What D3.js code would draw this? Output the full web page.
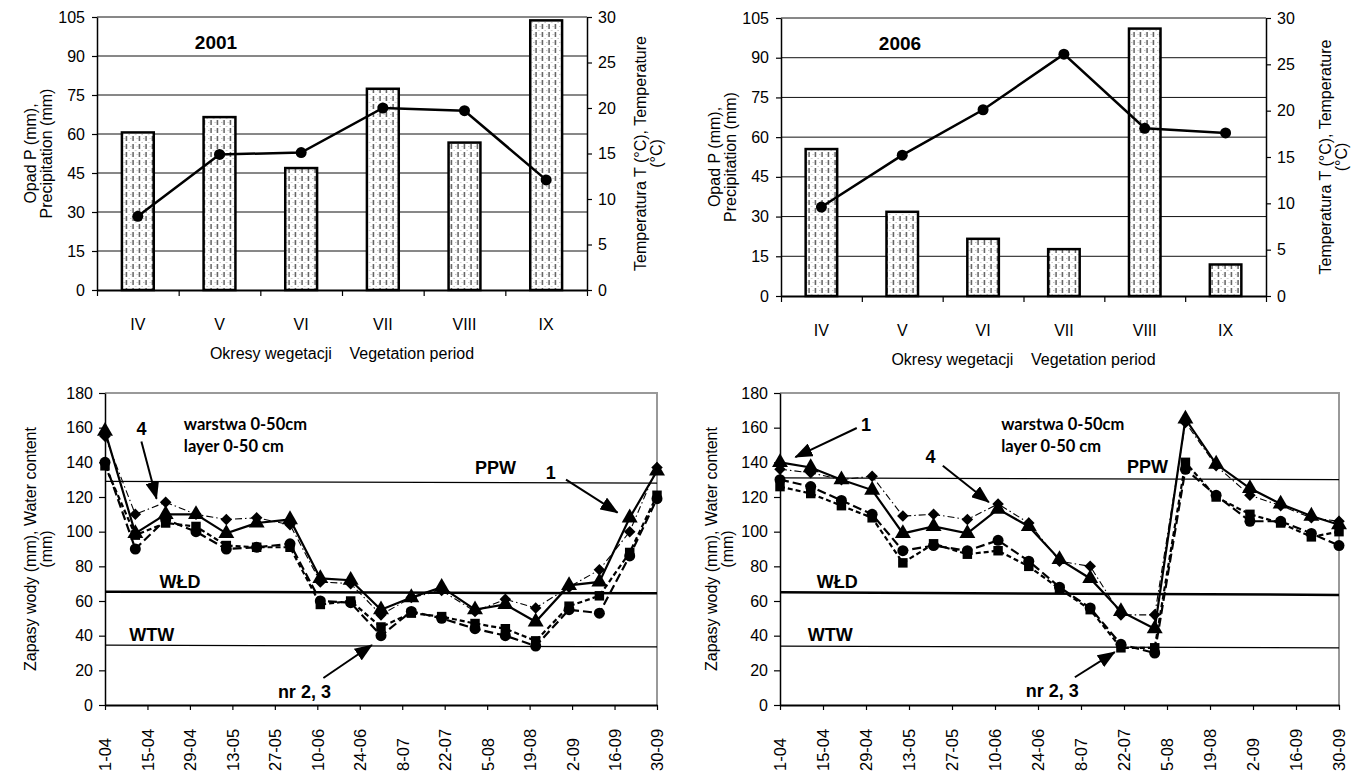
<!DOCTYPE html>
<html>
<head>
<meta charset="utf-8">
<script src="https://cdn.jsdelivr.net/npm/d3@7"></script>
<style>
  body { margin: 0; background: #fff; }
  svg { display: block; font-family: "Liberation Sans", Arial, sans-serif; }
</style>
</head>
<body>
<svg id="svg" width="1357" height="774"></svg>
<script>
// --- top charts: monthly precipitation (bars) + temperature (line)
const MONTHS = ["IV", "V", "VI", "VII", "VIII", "IX"];
const PRECIP_2001 = [60.6, 66.5, 46.9, 77.4, 56.7, 103.7];
const TEMP_2001   = [8.1, 14.9, 15.1, 20.0, 19.7, 12.1];
const PRECIP_2006 = [55.5, 31.8, 21.6, 17.7, 101.0, 11.9];
const TEMP_2006   = [9.6, 15.2, 20.1, 26.1, 18.1, 17.6];

// --- bottom charts: water content 0-50 cm, measured every dekad
const DEKADS = ["04-01", "04-11", "04-21", "05-01", "05-11", "05-21", "06-01", "06-11", "06-21",
  "07-01", "07-11", "07-21", "08-01", "08-11", "08-21", "09-01", "09-11", "09-21", "09-30"];
const AXIS_TICKS = ["04-01", "04-15", "04-29", "05-13", "05-27", "06-10", "06-24",
  "07-08", "07-22", "08-05", "08-19", "09-02", "09-16", "09-30"];

const W2001_S1 = [158, 99, 110, 110, 99, 105, 107, 73, 72, 55, 62, 68, 55, 58, 48, 69, 71, 108, 135];
const W2001_S2 = [140, 90, 107, 100, 90, 91, 93, 60, 59, 40, 54, 50, 44, 40, 34, 55, 53, 86, 119];
const W2001_S3 = [138, 98, 105, 103, 92, 91, 91, 58, 60, 45, 53, 51, 47, 44, 37, 57, 63, 88, 121];
const W2001_S4 = [155, 110, 117, 110, 107, 108, 104, 71, 70, 52, 62, 66, 54, 61, 56, 68, 78, 100, 137];

const W2006_S1 = [140, 137, 130, 124, 99, 103, 99, 113, 103, 84, 73, 54, 44, 165, 139, 125, 116, 109, 104];
const W2006_S2 = [130, 126, 118, 110, 89, 92, 89, 95, 83, 68, 56, 35, 30, 136, 121, 106, 106, 99, 92];
const W2006_S3 = [126, 122, 115, 108, 82, 93, 87, 89, 80, 67, 55, 33, 33, 140, 120, 110, 105, 97, 100];
const W2006_S4 = [136, 134, 130, 132, 109, 110, 107, 116, 105, 83, 80, 52, 52, 163, 138, 121, 115, 108, 106];

// reference levels [value at 1-04, value at 30-09]
const PPW_2001 = [129, 128], WLD_2001 = [65.4, 64.4], WTW_2001 = [34.6, 33.5];
const PPW_2006 = [131, 130], WLD_2006 = [65, 63.5],   WTW_2006 = [34, 33];

// annotations: [text, date, value, anchor, font], arrows: [fromDate, fromVal, toDate, toVal]
const LABELS_2001 = [
  ["4", "04-13", 156, "mid", "num"], ["warstwa 0-50cm", "04-27", 158.7, "start", "cal"],
  ["layer 0-50 cm", "04-27", 146, "start", "cal"], ["PPW", "08-01", 133, "start", "ref"],
  ["1", "08-26", 130.4, "mid", "num"], ["WŁD", "04-19", 67.5, "start", "ref"],
  ["WTW", "04-09", 37, "start", "ref"], ["nr 2, 3", "05-28", 4.3, "start", "nr"]];
const ARROWS_2001 = [["04-13", 152, "04-18", 119], ["08-31", 130, "09-17", 111], ["06-12", 15.6, "06-28", 34.6]];
const LABELS_2006 = [
  ["1", "04-29", 158, "mid", "num"], ["4", "05-20", 139.6, "mid", "num"],
  ["warstwa 0-50cm", "06-12", 158.7, "start", "cal"], ["layer 0-50 cm", "06-12", 146, "start", "cal"],
  ["PPW", "07-23", 134, "start", "ref"], ["WŁD", "04-13", 67.5, "start", "ref"],
  ["WTW", "04-10", 37, "start", "ref"], ["nr 2, 3", "06-20", 4.6, "start", "nr"]];
const ARROWS_2006 = [["04-26", 159.8, "04-06", 143], ["05-24", 138, "06-08", 117], ["07-06", 16, "07-19", 30.5]];

const svg = d3.select("#svg");
const defs = svg.append("defs");

// bar fill: vertical dashes on white
const pat = defs.append("pattern").attr("id", "dash").attr("patternUnits", "userSpaceOnUse")
  .attr("width", 6.5).attr("height", 8);
pat.append("rect").attr("width", 6.5).attr("height", 8).attr("fill", "#fff");
pat.append("line").attr("x1", 3).attr("x2", 3).attr("y1", 0).attr("y2", 5)
  .attr("stroke", "#333").attr("stroke-width", 1.2);
pat.append("rect").attr("x", 0.3).attr("y", 2).attr("width", 0.9).attr("height", 0.9).attr("fill", "#999");
pat.append("rect").attr("x", 5.2).attr("y", 6).attr("width", 0.9).attr("height", 0.9).attr("fill", "#999");

defs.append("marker").attr("id", "head").attr("markerUnits", "userSpaceOnUse")
  .attr("markerWidth", 18).attr("markerHeight", 14).attr("refX", 17).attr("refY", 7)
  .attr("orient", "auto")
  .append("path").attr("d", "M0,0 L18,7 L0,14 Z").attr("fill", "#000");

function styleAxis(g, fs) {
  g.selectAll(".domain").attr("stroke", "#000").attr("stroke-width", 1.5);
  g.selectAll(".tick line").attr("stroke", "#000").attr("stroke-width", 1.2);
  g.selectAll(".tick text").attr("fill", "#000").style("font-size", fs + "px");
}

function vtext(x, y, txt, size) {
  svg.append("text").attr("transform", `translate(${x},${y}) rotate(-90)`)
    .attr("text-anchor", "middle").style("font-size", size + "px").text(txt);
}

function drawTop(c) {
  const band = d3.scaleBand().domain(MONTHS).range([c.left, c.right]);
  const yP = d3.scaleLinear().domain([0, 105]).range([c.bottom, c.top]);
  const yT = d3.scaleLinear().domain([0, 30]).range([c.bottom, c.top]);
  const g = svg.append("g");

  // gridlines
  g.append("g").selectAll("line").data(d3.range(15, 106, 15)).join("line")
    .attr("x1", c.left).attr("x2", c.right).attr("y1", d => yP(d)).attr("y2", d => yP(d))
    .attr("stroke", "#111").attr("stroke-width", 1);

  // bars
  const bw = band.bandwidth() * 0.39;
  g.append("g").selectAll("rect").data(c.precip).join("rect")
    .attr("x", (d, i) => band(MONTHS[i]) + band.bandwidth() / 2 - bw / 2)
    .attr("width", bw).attr("y", d => yP(d)).attr("height", d => yP(0) - yP(d))
    .attr("fill", "url(#dash)").attr("stroke", "#000").attr("stroke-width", 2.5);

  // axes
  const ax = g.append("g").attr("transform", `translate(${c.left},0)`)
    .call(d3.axisLeft(yP).tickValues(d3.range(0, 106, 15)).tickSize(5).tickSizeOuter(0).tickPadding(7));
  styleAxis(ax, 16);
  const ar = g.append("g").attr("transform", `translate(${c.right},0)`)
    .call(d3.axisRight(yT).tickValues(d3.range(0, 31, 5)).tickSize(5).tickSizeOuter(0).tickPadding(6));
  styleAxis(ar, 16);
  const edges = d3.scaleLinear().domain([0, 6]).range([c.left, c.right]);
  const ab = g.append("g").attr("transform", `translate(0,${c.bottom})`)
    .call(d3.axisBottom(edges).tickValues(d3.range(0, 7)).tickFormat("").tickSize(6).tickSizeOuter(0));
  styleAxis(ab, 16);
  ab.select(".domain").attr("stroke-width", 2);
  g.append("g").selectAll("text").data(MONTHS).join("text")
    .attr("x", d => band(d) + band.bandwidth() / 2).attr("y", c.bottom + 40)
    .attr("text-anchor", "middle").style("font-size", "16px").text(d => d);

  // temperature line
  const line = d3.line().x((d, i) => band(MONTHS[i]) + band.bandwidth() / 2).y(d => yT(d));
  g.append("path").datum(c.temp).attr("d", line).attr("fill", "none")
    .attr("stroke", "#000").attr("stroke-width", 2.5);
  g.append("g").selectAll("circle").data(c.temp).join("circle")
    .attr("cx", (d, i) => band(MONTHS[i]) + band.bandwidth() / 2).attr("cy", d => yT(d))
    .attr("r", 5.5).attr("fill", "#000");

  g.append("text").attr("x", c.left + 119).attr("y", c.top + 32).attr("text-anchor", "middle")
    .style("font-size", "19px").style("font-weight", "bold").text(c.year);
  g.append("text").attr("x", (c.left + c.right) / 2).attr("y", c.bottom + 69)
    .attr("text-anchor", "middle").style("font-size", "16px").style("white-space", "pre")
    .text("Okresy wegetacji    Vegetation period");

  const mid = (c.top + c.bottom) / 2;
  vtext(c.left - 61, mid, "Opad P (mm),", 16);
  vtext(c.left - 45, mid, "Precipitation (mm)", 16);
  vtext(c.right + c.rt, mid, "Temperatura T (°C), Temperature", 16);
  vtext(c.right + c.rt + 16, mid, "(°C)", 16);
}

const FONTS = {
  num: { f: '"Liberation Sans", Arial', s: 18 },
  ref: { f: '"Liberation Sans", Arial', s: 18 },
  nr:  { f: '"Liberation Sans Narrow", "Liberation Sans"', s: 18 },
  cal: { f: 'Lato, "Open Sans"', s: 16.5 },
};

function drawBottom(c) {
  const parse = d3.timeParse("%Y-%m-%d");
  const dt = s => parse(`${c.year}-${s}`);
  const x = d3.scaleTime().domain([dt("04-01"), dt("09-30")]).range([c.left, c.right]);
  const y = d3.scaleLinear().domain([0, 180]).range([c.bottom, c.top]);
  const g = svg.append("g");

  // plot frame (grey top/right)
  g.append("path").attr("d", `M${c.left},${c.top}H${c.right}V${c.bottom}`)
    .attr("fill", "none").attr("stroke", "#999").attr("stroke-width", 2);

  const ax = g.append("g").attr("transform", `translate(${c.left},0)`)
    .call(d3.axisLeft(y).tickValues(d3.range(0, 181, 20)).tickSize(6).tickSizeOuter(0).tickPadding(6));
  styleAxis(ax, 16);
  const fmt = d3.timeFormat("%-d-%m");
  const ab = g.append("g").attr("transform", `translate(0,${c.bottom})`)
    .call(d3.axisBottom(x).tickValues(AXIS_TICKS.map(dt)).tickFormat(fmt).tickSize(5).tickSizeOuter(0));
  styleAxis(ab, 16.5);
  ab.select(".domain").attr("stroke-width", 2);
  ab.selectAll(".tick text").attr("transform", "rotate(-90)").attr("text-anchor", "start")
    .attr("x", -66).attr("y", 0).attr("dy", "0.36em");

  // reference levels
  [[c.ppw, 1.2], [c.wld, 2.5], [c.wtw, 1.2]].forEach(([v, w]) => {
    g.append("line").attr("x1", x(dt("04-01"))).attr("x2", x(dt("09-30")))
      .attr("y1", y(v[0])).attr("y2", y(v[1])).attr("stroke", "#000").attr("stroke-width", w);
  });

  const series = [
    { v: c.s4, sym: d3.symbolDiamond2, size: 85, w: 1.1, dash: "7 3 1.5 3" },
    { v: c.s3, sym: d3.symbolSquare, size: 90, w: 2.2, dash: "5 3" },
    { v: c.s2, sym: d3.symbolCircle, size: 95, w: 2.2, dash: "9 4" },
    { v: c.s1, sym: d3.symbolTriangle, size: 110, w: 2.2, dash: null },
  ];
  const line = d3.line().x((d, i) => x(dt(DEKADS[i]))).y(d => y(d));
  series.forEach(s => {
    g.append("path").datum(s.v).attr("d", line).attr("fill", "none").attr("stroke", "#000")
      .attr("stroke-width", s.w).attr("stroke-dasharray", s.dash);
  });
  series.forEach(s => {
    g.append("g").selectAll("path").data(s.v).join("path")
      .attr("transform", (d, i) => `translate(${x(dt(DEKADS[i]))},${y(d)})`)
      .attr("d", d3.symbol(s.sym, s.size)).attr("fill", "#000");
  });

  // annotations
  c.labels.forEach(([t, d, v, anchor, kind]) => {
    g.append("text").attr("x", x(dt(d))).attr("y", y(v))
      .attr("text-anchor", anchor === "mid" ? "middle" : "start")
      .style("font-family", FONTS[kind].f).style("font-size", FONTS[kind].s + "px")
      .style("font-weight", "bold").text(t);
  });
  c.arrows.forEach(([d0, v0, d1, v1]) => {
    g.append("line").attr("x1", x(dt(d0))).attr("y1", y(v0)).attr("x2", x(dt(d1))).attr("y2", y(v1))
      .attr("stroke", "#000").attr("stroke-width", 2).attr("marker-end", "url(#head)");
  });

  const mid = (c.top + c.bottom) / 2;
  vtext(c.left - c.yt, mid, "Zapasy wody (mm), Water content", 16);
  vtext(c.left - c.yt + 16, mid, "(mm)", 16);
}

drawTop({ left: 97, right: 587, top: 17, bottom: 290, precip: PRECIP_2001, temp: TEMP_2001, year: "2001", rt: 59 });
drawTop({ left: 781, right: 1266, top: 18, bottom: 296, precip: PRECIP_2006, temp: TEMP_2006, year: "2006", rt: 65 });

drawBottom({ left: 105, right: 657, top: 393, bottom: 705, year: 2001, yt: 69,
  s1: W2001_S1, s2: W2001_S2, s3: W2001_S3, s4: W2001_S4,
  ppw: PPW_2001, wld: WLD_2001, wtw: WTW_2001, labels: LABELS_2001, arrows: ARROWS_2001 });
drawBottom({ left: 780, right: 1339, top: 393, bottom: 705, year: 2006, yt: 63,
  s1: W2006_S1, s2: W2006_S2, s3: W2006_S3, s4: W2006_S4,
  ppw: PPW_2006, wld: WLD_2006, wtw: WTW_2006, labels: LABELS_2006, arrows: ARROWS_2006 });
</script>
</body>
</html>
